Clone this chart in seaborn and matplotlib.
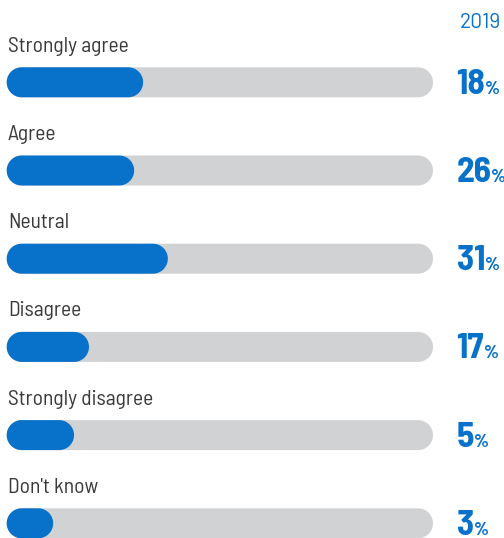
import matplotlib
matplotlib.use("Agg")
import matplotlib.pyplot as plt
from matplotlib.patches import Polygon
import numpy as np
import seaborn as sns
import pandas as pd

# ---- data ----
categories = ["Strongly agree", "Agree", "Neutral", "Disagree", "Strongly disagree", "Don't know"]
pct_labels = [18, 26, 31, 17, 5, 3]
bar_fill = [32.0, 29.9, 37.8, 19.3, 15.8, 10.9]   # filled share of the track, as drawn
track_total = [100, 100, 100, 100, 100, 100]
year_label = "2019"

BLUE = "#0871C9"
GRAY = "#D1D2D4"
TEXT = "#3A3A3A"
FONT = ["Barlow Semi Condensed", "DejaVu Sans"]

sns.set_theme(style="white")
plt.rcParams["font.family"] = FONT

W, H = 504, 538
fig = plt.figure(figsize=(W / 100, H / 100), dpi=100)
ax = fig.add_axes([0, 0, 1, 1])

df = pd.DataFrame({"category": categories, "track": track_total, "fill": bar_fill})

# pixel geometry -> data limits
px_per_x = (433.0 - 6.7) / 100.0
px_per_y = 88.2
x0 = -6.7 / px_per_x
x1 = 100 + (W - 433.0) / px_per_x
y_top = 0 - 82.3 / px_per_y
y_bot = 5 + (H - 523.3) / px_per_y

bar_h = 30.0 / px_per_y
sns.barplot(data=df, x="track", y="category", color=GRAY, width=bar_h,
            saturation=1, ax=ax, orient="h")
sns.barplot(data=df, x="fill", y="category", color=BLUE, width=bar_h,
            saturation=1, ax=ax, orient="h")

ax.set_xlim(x0, x1)
ax.set_ylim(y_bot, y_top)
ax.axis("off")

# turn each bar into a single pill-shaped polygon
r_x = 15.0 / px_per_x
for p in list(ax.patches):
    x, y = p.get_x(), p.get_y()
    w, h = p.get_width(), abs(p.get_height())
    fc = p.get_facecolor()
    z = p.get_zorder()
    p.remove()
    yc = p.get_y() + p.get_height() / 2
    ry = h / 2
    a_r = np.linspace(-np.pi / 2, np.pi / 2, 40)
    a_l = np.linspace(np.pi / 2, 3 * np.pi / 2, 40)
    right = np.column_stack([x + w - r_x + r_x * np.cos(a_r), yc + ry * np.sin(a_r)])
    left = np.column_stack([x + r_x + r_x * np.cos(a_l), yc + ry * np.sin(a_l)])
    ax.add_patch(Polygon(np.vstack([right, left]), closed=True, facecolor=fc,
                         edgecolor="none", zorder=z))

# labels and values
lab_x = 8.0
num_x = 456.5
for i, (cat, v) in enumerate(zip(categories, pct_labels)):
    ax.text((lab_x - 6.7) / px_per_x, i - 30.5 / px_per_y, cat,
            fontsize=15.5, color=TEXT, ha="left", va="baseline")
    t = ax.text((num_x - 6.7) / px_per_x, i + 11.5 / px_per_y, str(v),
                fontsize=25.5, fontweight="bold", color=BLUE, ha="left",
                va="baseline")
    ax.annotate("%", xy=(1, i + 11.5 / px_per_y), xycoords=(t, "data"),
                xytext=(0, 0), textcoords="offset points",
                fontsize=13.5, fontweight="bold", color=BLUE, ha="left",
                va="baseline")

ax.text((501 - 6.7) / px_per_x, y_top + 28.3 / px_per_y, year_label,
        fontsize=15, color=BLUE, ha="right", va="baseline",
        family=["Barlow", "DejaVu Sans"])

fig.savefig("out.png", dpi=100, facecolor="white")
